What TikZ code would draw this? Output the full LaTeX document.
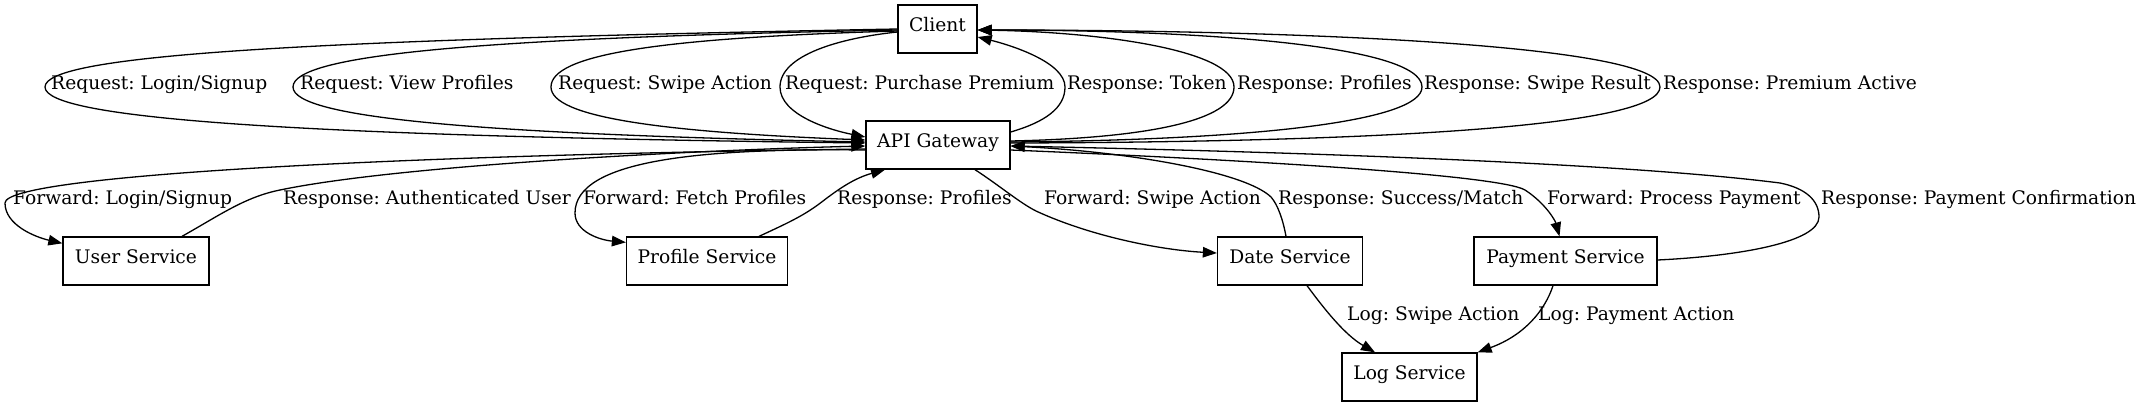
\documentclass[tikz,border=0pt]{standalone}
\usepackage{fontspec}
\setmainfont{DejaVu Serif}
\usetikzlibrary{arrows.meta,calc}
\frenchspacing
\tikzset{
  txt/.style={font=\fontsize{18.67}{22}\selectfont\frenchspacing, text height=0.75em, text depth=0.25em},
  box/.style={txt, draw, line width=1.3pt, rectangle, minimum height=48pt, inner xsep=3pt, inner ysep=0pt},
  lbl/.style={txt, anchor=west, inner sep=0pt},
  edge/.style={line width=1.3pt, -{Triangle[length=14pt,width=10.5pt]}},
}
\begin{document}
\begin{tikzpicture}[x=1pt,y=-1pt]
\useasboundingbox (0,0) rectangle (2141,407);
% nodes
\node[box, minimum width=79pt]  (client)  at (937.5,29)  {Client};
\node[box, minimum width=144pt] (api)     at (938,145)   {API Gateway};
\node[box, minimum width=146pt] (user)    at (136,261)   {User Service};
\node[box, minimum width=161pt] (profile) at (707,261)   {Profile Service};
\node[box, minimum width=145pt] (date)    at (1290,261)  {Date Service};
\node[box, minimum width=183pt] (payment) at (1565.5,261){Payment Service};
\node[box, minimum width=135pt] (log)     at (1409.5,377){Log Service};

% Client -> API requests
\draw[edge] (client.west) .. controls (300,40) and (45,55) .. (45,87)
  .. controls (45,119) and (300,136) .. ($(api.west)+(0,-2)$);
\draw[edge] ($(client.west)+(0,1)$) .. controls (475,38) and (293,55) .. (293,87)
  .. controls (293,118) and (480,134) .. ($(api.west)+(0,-3)$);
\draw[edge] ($(client.west)+(0,2)$) .. controls (655,38) and (551,55) .. (551,87)
  .. controls (551,117) and (660,132) .. ($(api.west)+(0,-5)$);
\draw[edge] ($(client.west)+(0,3)$) .. controls (840,38) and (780,55) .. (780,87)
  .. controls (780,115) and (830,130) .. ($(api.west)+(0,-8)$);

% API -> Client responses
\draw[edge] ($(api.east)+(0,-13)$) .. controls (1045,122) and (1065,108) .. (1065,87)
  .. controls (1065,62) and (1010,45) .. ($(client.east)+(0,8)$);
\draw[edge] ($(api.east)+(0,-4)$) .. controls (1150,138) and (1234,120) .. (1234,87)
  .. controls (1234,50) and (1100,32) .. ($(client.east)+(0,1)$);
\draw[edge] ($(api.east)+(0,-3)$) .. controls (1250,140) and (1422,122) .. (1422,87)
  .. controls (1422,45) and (1200,30) .. ($(client.east)+(0,1)$);
\draw[edge] ($(api.east)+(0,-2)$) .. controls (1400,142) and (1660,125) .. (1660,87)
  .. controls (1660,45) and (1300,30) .. ($(client.east)+(0,1)$);

% API <-> User
\draw[edge] ($(api.west)+(0,4)$) .. controls (400,155) and (5,175) .. (5,203)
  .. controls (5,225) and (35,237) .. ($(user.north west)+(0,7)$);
\draw[edge] ($(user.north)+(46,0)$) .. controls (220,215) and (245,197) .. (280,190)
  .. controls (400,165) and (700,150) .. ($(api.west)+(0,1)$);

% API <-> Profile
\draw[edge] ($(api.west)+(0,5)$) .. controls (700,148) and (575,160) .. (575,213)
  .. controls (575,232) and (600,240) .. ($(profile.north west)+(0,6)$);
\draw[edge] ($(profile.north)+(52,0)$) .. controls (790,222) and (805,215) .. (823,201)
  .. controls (840,188) and (855,178) .. ($(api.south)+(-53,0)$);

% API <-> Date
\draw[edge] ($(api.south)+(37,0)$) .. controls (1000,186) and (1020,203) .. (1036,211)
  .. controls (1090,236) and (1160,250) .. ($(date.west)+(0,-8)$);
\draw[edge] ($(date.north)+(-4,0)$) .. controls (1283,220) and (1278,205) .. (1271,197)
  .. controls (1245,172) and (1130,152) .. ($(api.east)+(0,1)$);

% API <-> Payment
\draw[edge] ($(api.east)+(0,5)$) .. controls (1250,160) and (1500,175) .. (1525,190)
  .. controls (1545,203) and (1555,220) .. ($(payment.north)+(-6,0)$);
\draw[edge] ($(payment.east)+(0,-1)$) .. controls (1740,256) and (1819,242) .. (1819,217)
  .. controls (1819,200) and (1805,188) .. (1780,183)
  .. controls (1600,160) and (1200,150) .. ($(api.east)+(0,1)$);

% Logging
\draw[edge] ($(date.south)+(17,0)$) .. controls (1325,310) and (1345,335) .. ($(log.north)+(-34.5,0)$);
\draw[edge] ($(payment.south)+(-12.5,0)$) .. controls (1545,310) and (1525,335) .. (log.north east);

% labels
\node[lbl] (l1)  at (51,87)   {Request: Login/Signup};
\node[lbl] (l2)  at (300,87)  {Request: View Profiles};
\node[lbl] (l3)  at (558,87)  {Request: Swipe Action};
\node[lbl] (l4)  at (785,87)  {Request: Purchase Premium};
\node[lbl] (l5)  at (1067,87) {Response: Token};
\node[lbl] (l6)  at (1237,87) {Response: Profiles};
\node[lbl] (l7)  at (1424,87) {Response: Swipe Result};
\node[lbl] (l8)  at (1663,87) {Response: Premium Active};
\node[lbl] (l9)  at (13,202)  {Forward: Login/Signup};
\node[lbl] (l10) at (283,202) {Response: Authenticated User};
\node[lbl] (l11) at (583,202) {Forward: Fetch Profiles};
\node[lbl] (l12) at (837,202) {Response: Profiles};
\node[lbl] (l13) at (1044,202){Forward: Swipe Action};
\node[lbl] (l14) at (1278,202){Response: Success/Match};
\node[lbl] (l15) at (1547,202){Forward: Process Payment};
\node[lbl] (l16) at (1821,202){Response: Payment Confirmation};
\node[lbl] (l17) at (1347,318){Log: Swipe Action};
\node[lbl] (l18) at (1538,318){Log: Payment Action};
\end{tikzpicture}
\end{document}
